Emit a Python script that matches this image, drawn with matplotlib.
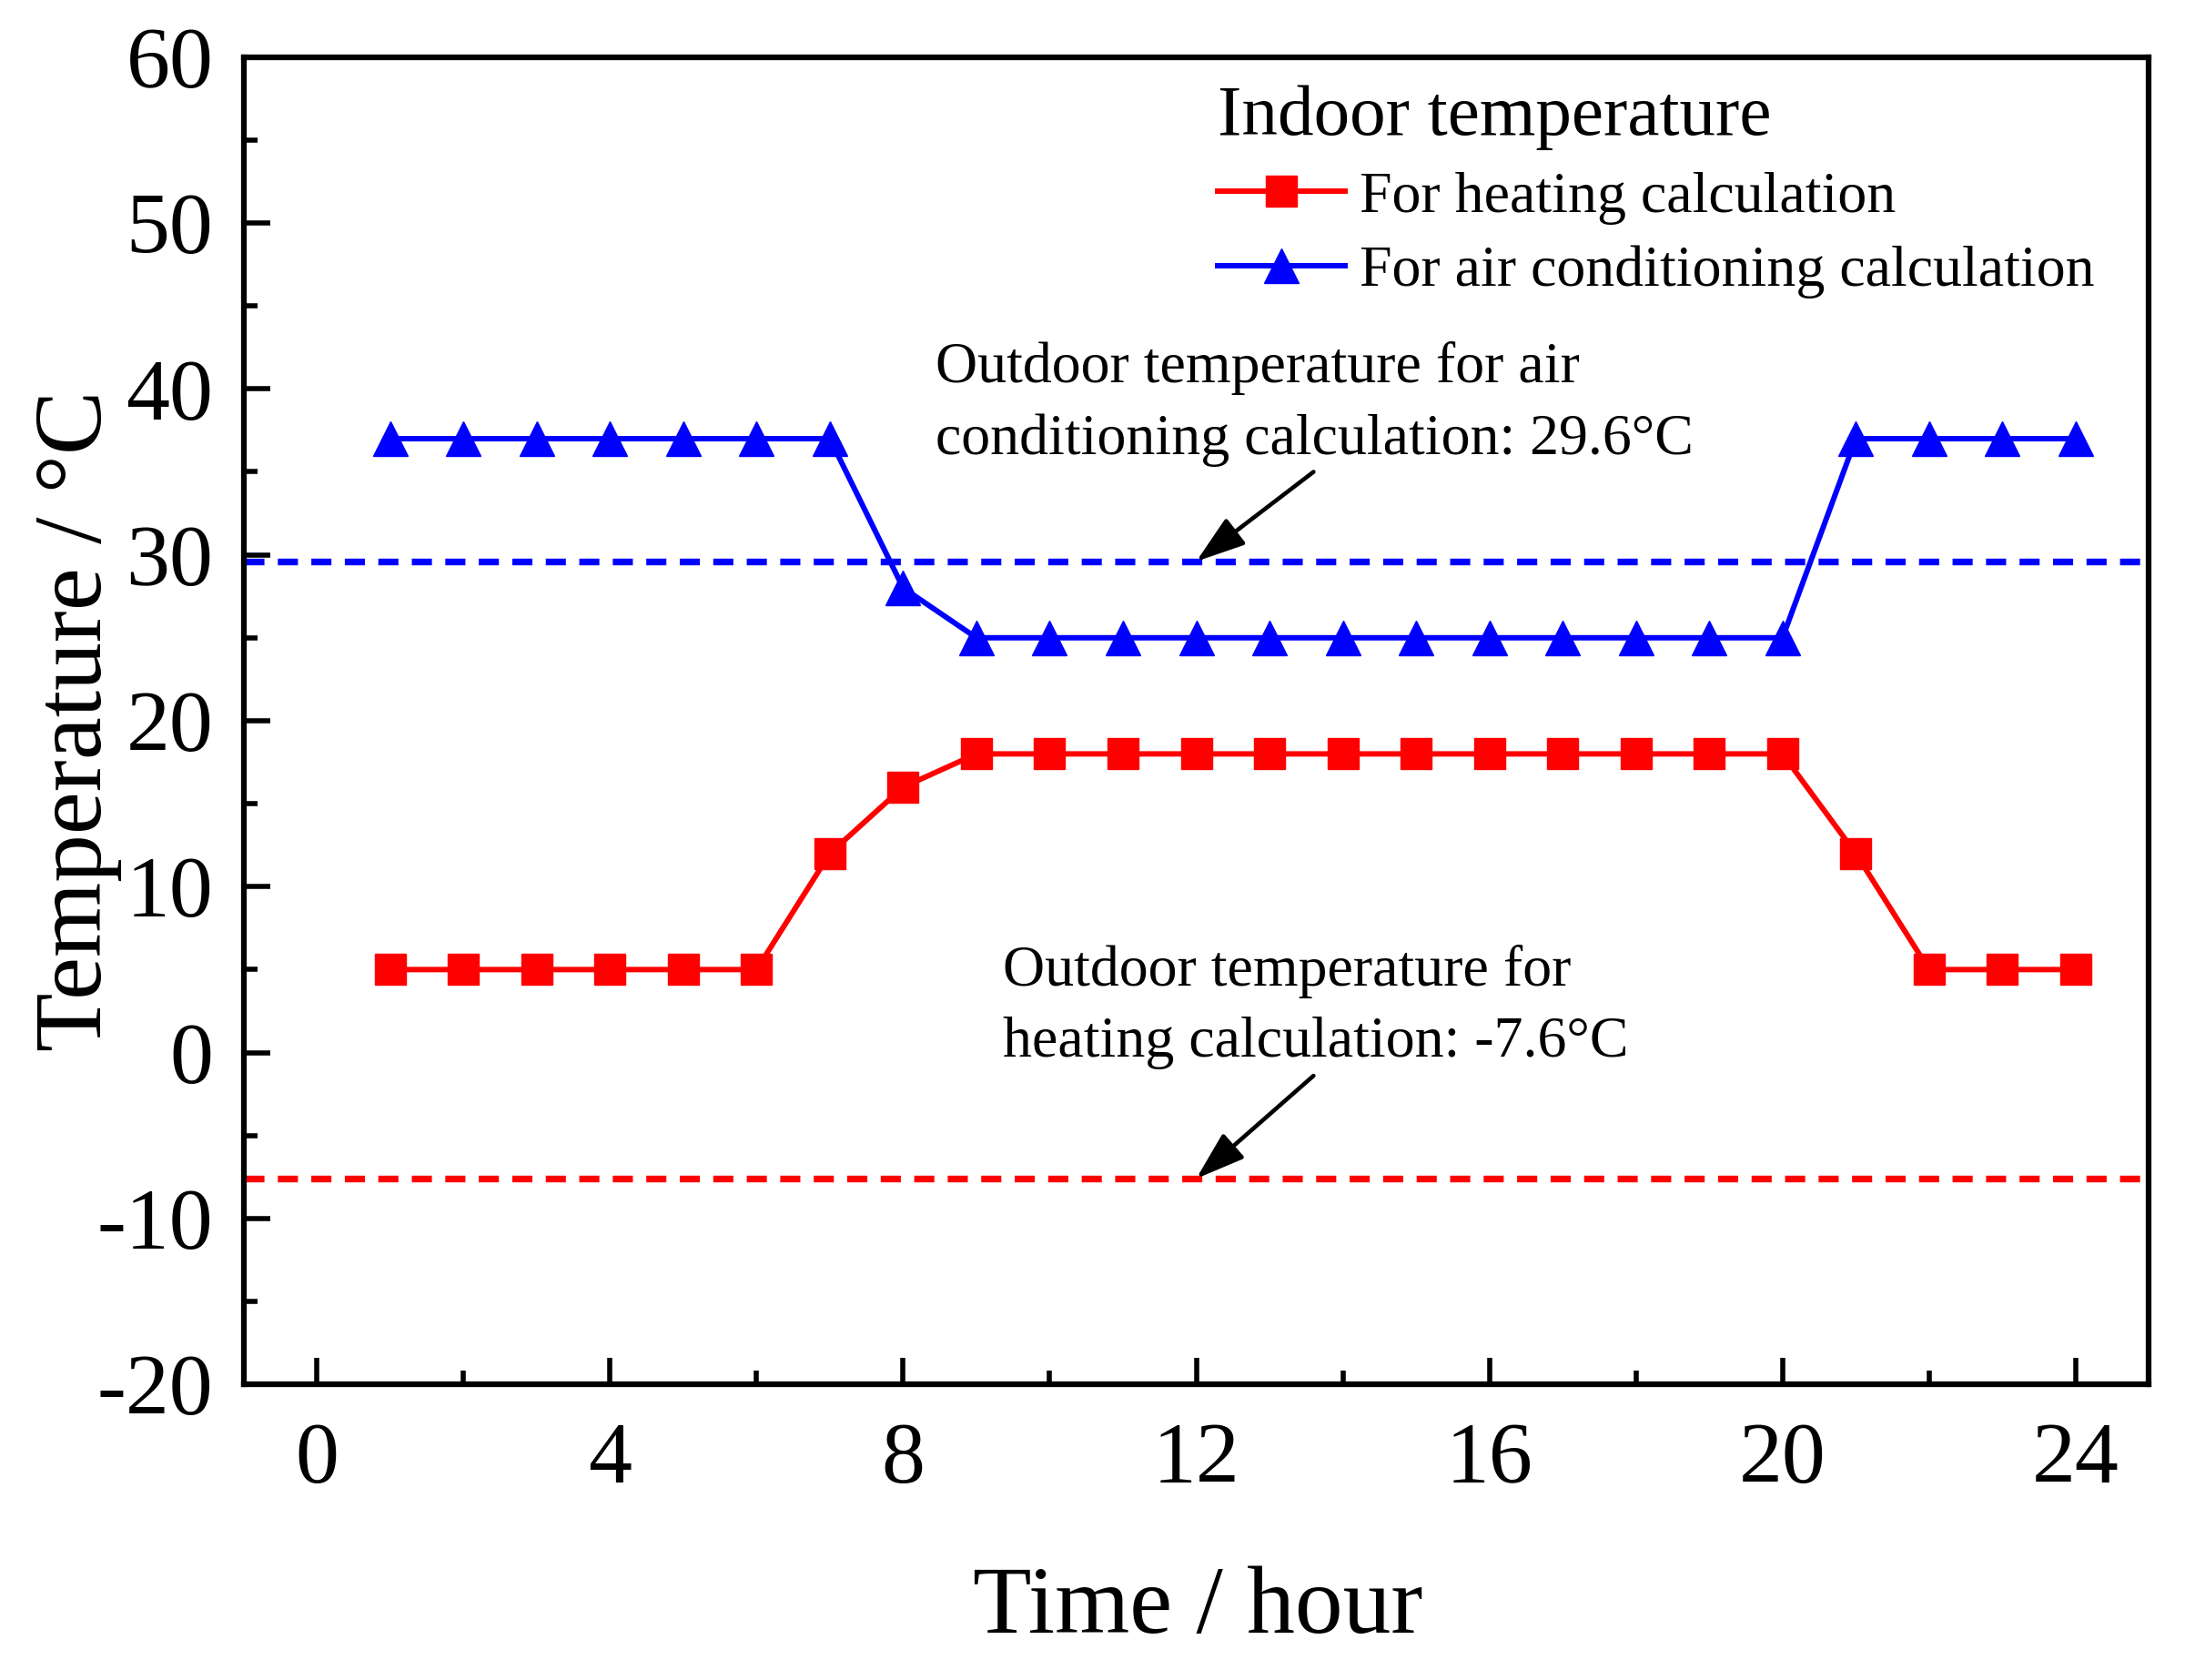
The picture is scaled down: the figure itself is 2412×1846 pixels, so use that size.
import matplotlib
matplotlib.use("Agg")
import matplotlib.pyplot as plt
from matplotlib.ticker import MultipleLocator

hours = list(range(1, 25))
heating = [5, 5, 5, 5, 5, 5, 12, 16, 18, 18, 18, 18, 18, 18, 18, 18, 18, 18, 18, 18, 12, 5, 5, 5]
aircon = [37, 37, 37, 37, 37, 37, 37, 28, 25, 25, 25, 25, 25, 25, 25, 25, 25, 25, 25, 25, 37, 37, 37, 37]
outdoor_ac = 29.6
outdoor_heat = -7.6
x_ticks = [0, 4, 8, 12, 16, 20, 24]
y_ticks = [-20, -10, 0, 10, 20, 30, 40, 50, 60]

plt.rcParams['font.family'] = ['Liberation Serif', 'DejaVu Serif']
plt.rcParams['axes.unicode_minus'] = False

fig = plt.figure(figsize=(24.12, 18.46), dpi=100)
ax = fig.add_axes([0.111, 0.176, 0.868, 0.790])

ax.axhline(outdoor_ac, color='#0000ff', lw=5.3, dashes=(3, 2), zorder=1)
ax.axhline(outdoor_heat, color='#ff0000', lw=5.3, dashes=(3, 2), zorder=1)

ax.plot(hours, heating, color='#ff0000', lw=4.3, marker='s', markersize=24,
        label='For heating calculation', zorder=3)
ax.plot(hours, aircon, color='#0000ff', lw=4.3, marker='^', markersize=27,
        label='For air conditioning calculation', zorder=3)

ax.set_xlim(-1, 25)
ax.set_ylim(-20, 60)
ax.set_xticks(x_ticks)
ax.set_yticks(y_ticks)
ax.xaxis.set_minor_locator(MultipleLocator(2))
ax.yaxis.set_minor_locator(MultipleLocator(5))
ax.tick_params(which='both', direction='in', top=False, right=False, width=4, colors='black')
ax.tick_params(which='major', length=21, labelsize=69)
ax.tick_params(which='minor', length=11)
ax.tick_params(axis='y', which='major', pad=24)
ax.tick_params(axis='x', which='major', pad=30)
for s in ax.spines.values():
    s.set_linewidth(4.5)
    s.set_color('black')

ax.set_xlabel('Time / hour', fontsize=76)
ax.set_ylabel('Temperature / °C', fontsize=76)
ax.xaxis.set_label_coords(0.501, -0.137)
ax.yaxis.set_label_coords(-0.064, 0.5)

leg = ax.legend(loc='upper left', bbox_to_anchor=(0.511, 0.979), frameon=False,
                fontsize=46, title='Indoor temperature', title_fontsize=57,
                alignment='left', handlelength=2.2, handletextpad=0.25,
                labelspacing=0.36, borderpad=0, borderaxespad=0)

arrow_kw = dict(arrowstyle='-|>,head_length=0.6,head_width=0.2', color='black',
                lw=3.3, mutation_scale=55, shrinkA=0, shrinkB=0)
ax.annotate('', xy=(12, outdoor_ac), xytext=(13.6, 35.0), arrowprops=arrow_kw)
ax.text(8.44, 39.1, 'Outdoor temperature for air\nconditioning calculation: 29.6°C',
        fontsize=46, ha='left', va='center', linespacing=1.45)
ax.annotate('', xy=(12, outdoor_heat), xytext=(13.6, -1.4), arrowprops=arrow_kw)
ax.text(9.36, 2.74, 'Outdoor temperature for\nheating calculation: -7.6°C',
        fontsize=46, ha='left', va='center', linespacing=1.45)

fig.savefig('out.png', dpi=100)
